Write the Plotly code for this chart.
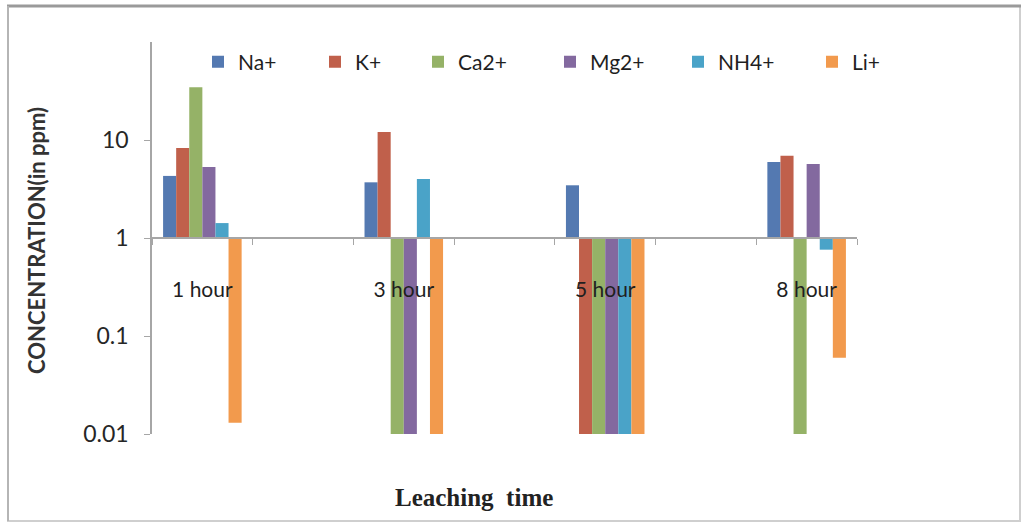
import plotly.graph_objects as go

# ---- data ----
times = ["1 hour", "3 hour", "5 hour", "8 hour"]
slots = ["1 hour", " ", "3 hour", "  ", "5 hour", "   ", "8 hour"]  # category slots on the axis
ions = ["Na+", "K+", "Ca2+", "Mg2+", "NH4+", "Li+"]
na = [4.3, 3.7, 3.45, 5.95]
k = [8.3, 12.1, 0.01, 6.9]
ca = [34.5, 0.01, 0.01, 0.01]
mg = [5.3, 0.01, 0.01, 5.7]
nh4 = [1.42, 4.0, 0.01, 0.76]
li = [0.013, 0.01, 0.01, 0.06]
series = [na, k, ca, mg, nh4, li]
colors = ["#5479b1", "#c0604b", "#95b267", "#83699f", "#4aa3c8", "#f29a4d"]
ytick_vals = [0.01, 0.1, 1, 10]
ytick_text = ["0.01", "0.1", "1", "10"]

# ---- layout geometry (pixels) ----
W, H = 1024, 526
L, R, T, B = 152, 857, 42, 434
pw, ph = R - L, B - T


def px_x(p):
    return (p - L) / pw


def px_y(p):
    return (B - p) / ph


legend_left = [213, 330, 433, 565, 693, 827]
FONT = "Lato, 'Open Sans', sans-serif"

fig = go.Figure()
for i, (name, vals, col) in enumerate(zip(ions, series, colors)):
    fig.add_trace(go.Bar(
        x=times,
        y=[v - 1 for v in vals],
        base=1,
        name=name,
        customdata=vals,
        hovertemplate="%{x}: %{customdata}<extra>" + name + "</extra>",
        marker=dict(color=col, line=dict(width=0)),
        legend="legend" if i == 0 else f"legend{i + 1}",
    ))

layout_legends = {}
for i, xl in enumerate(legend_left):
    key = "legend" if i == 0 else f"legend{i + 1}"
    layout_legends[key] = dict(
        x=px_x(xl - 15), y=px_y(62), xanchor="left", yanchor="middle",
        xref="paper", yref="paper",
        bgcolor="rgba(0,0,0,0)", borderwidth=0,
        font=dict(family=FONT, size=21, color="#1f1f1f"),
    )

fig.update_layout(
    width=W, height=H,
    margin=dict(l=L, r=W - R, t=T, b=H - B, pad=0),
    paper_bgcolor="white", plot_bgcolor="white",
    barmode="group", bargap=0.22, bargroupgap=0,
    showlegend=True,
    **layout_legends,
    xaxis=dict(
        type="category", categoryorder="array", categoryarray=slots,
        range=[-0.5, 6.5],
        anchor="free", position=px_y(238),
        showline=True, linecolor="#a6a6a6", linewidth=2,
        ticks="outside", tickson="boundaries", ticklen=6, tickcolor="#a6a6a6",
        ticklabelstandoff=33,
        tickfont=dict(family=FONT, size=21, color="#1f1f1f"),
        showgrid=False, zeroline=False,
    ),
    yaxis=dict(
        type="log", range=[-2, 2],
        tickvals=ytick_vals, ticktext=ytick_text,
        showline=True, linecolor="#a6a6a6", linewidth=1.5,
        ticks="outside", ticklen=6, tickcolor="#a6a6a6",
        tickfont=dict(family=FONT, size=23, color="#262626"),
        ticklabelstandoff=11,
        showgrid=False, zeroline=False,
    ),
    annotations=[
        dict(text="<b>CONCENTRATION(in ppm)</b>", textangle=-90,
             x=px_x(37), y=px_y(240), xref="paper", yref="paper",
             showarrow=False, xanchor="center", yanchor="middle",
             font=dict(family=FONT, size=22, color="#333333")),
        dict(text="<b>Leaching  time</b>",
             x=px_x(474), y=px_y(497), xref="paper", yref="paper",
             showarrow=False, xanchor="center", yanchor="middle",
             font=dict(family="'Liberation Serif', 'Times New Roman', serif", size=25, color="#222222")),
    ],
    shapes=[
        dict(type="rect", xref="paper", yref="paper",
             x0=px_x(8), x1=px_x(1020), y0=px_y(521), y1=px_y(6),
             line=dict(color="#cfcfcf", width=2), fillcolor="rgba(0,0,0,0)", layer="below"),
        dict(type="line", xref="paper", yref="paper",
             x0=px_x(7), x1=px_x(1021), y0=px_y(6), y1=px_y(6),
             line=dict(color="#9a9a9a", width=3)),
        dict(type="line", xref="paper", yref="paper",
             x0=px_x(8), x1=px_x(8), y0=px_y(521), y1=px_y(6),
             line=dict(color="#b5b5b5", width=2)),
    ],
)

fig.write_html("out.html", config={"displayModeBar": False},
               post_script="document.body.style.margin='0';")
